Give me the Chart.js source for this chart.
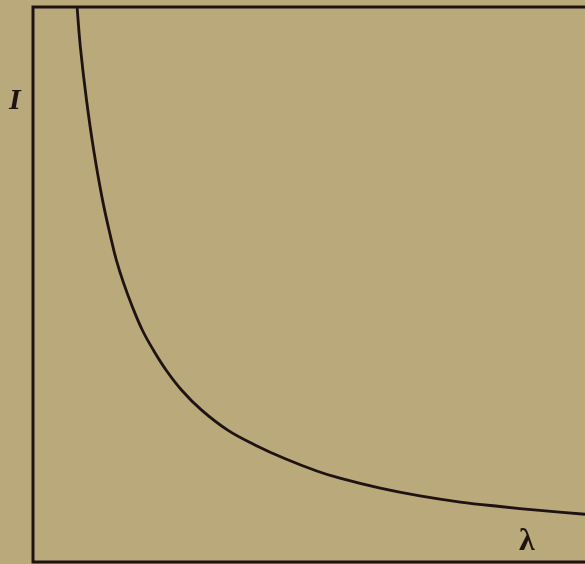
<!DOCTYPE html>
<html>
<head>
<meta charset="utf-8">
<script src="https://cdn.jsdelivr.net/npm/chart.js@4/dist/chart.umd.min.js"></script>
<style>
    body { margin: 0; background: #b9a97b; }
    #wrap { position: relative; width: 585px; height: 564px; }
    .lbl { position: absolute; font-family: "Liberation Serif", serif; color: #1e1212; font-weight: bold; }
</style>
</head>
<body>
<div id="wrap">
    <canvas id="myChart" width="585" height="564"></canvas>
    <div class="lbl" style="left:9px; top:82px; font-size:30px; font-style:italic;">I</div>
    <div class="lbl" style="left:519px; top:521px; font-size:32px;">λ</div>
</div>
<script>
    // wavelength (lambda) and intensity
    var lambda = [0.80, 0.86, 0.97, 1.10, 1.26, 1.42, 1.51, 1.64, 1.80, 1.98, 2.18, 2.41, 2.69, 3.05, 3.52, 4.02, 4.57, 5.14, 5.56, 6.29, 7.01, 7.74, 8.46, 9.18, 10.0];
    var intensity = [9.98, 9.26, 8.32, 7.42, 6.52, 5.80, 5.44, 5.03, 4.60, 4.18, 3.82, 3.46, 3.10, 2.74, 2.38, 2.11, 1.86, 1.64, 1.51, 1.33, 1.19, 1.08, 1.00, 0.93, 0.86];

    var points = lambda.map(function(x, i) {
        return { x: x, y: intensity[i] };
    });

    // left, top and bottom sides of the frame
    var framePlugin = {
        id: 'frame',
        afterDraw: function(chart) {
            var ctx = chart.ctx;
            var a = chart.chartArea;
            ctx.save();
            ctx.strokeStyle = '#1e1212';
            ctx.lineWidth = 3;
            ctx.beginPath();
            ctx.moveTo(a.right, a.top);
            ctx.lineTo(a.left, a.top);
            ctx.lineTo(a.left, a.bottom);
            ctx.lineTo(a.right, a.bottom);
            ctx.stroke();
            ctx.restore();
        }
    };

    var ctx = document.getElementById('myChart').getContext('2d');
    var chart = new Chart(ctx, {
        type: 'line',
        data: {
            datasets: [{
                data: points,
                borderColor: '#1e1212',
                borderWidth: 2.8,
                pointRadius: 0,
                tension: 0.4,
                fill: false
            }]
        },
        options: {
            responsive: false,
            animation: false,
            layout: { padding: { left: 33, top: 7, right: 0, bottom: 2 } },
            plugins: { legend: { display: false }, tooltip: { enabled: false } },
            scales: {
                x: { type: 'linear', min: 0, max: 10, display: false },
                y: { type: 'linear', min: 0, max: 10, display: false }
            }
        },
        plugins: [framePlugin]
    });
</script>
</body>
</html>
